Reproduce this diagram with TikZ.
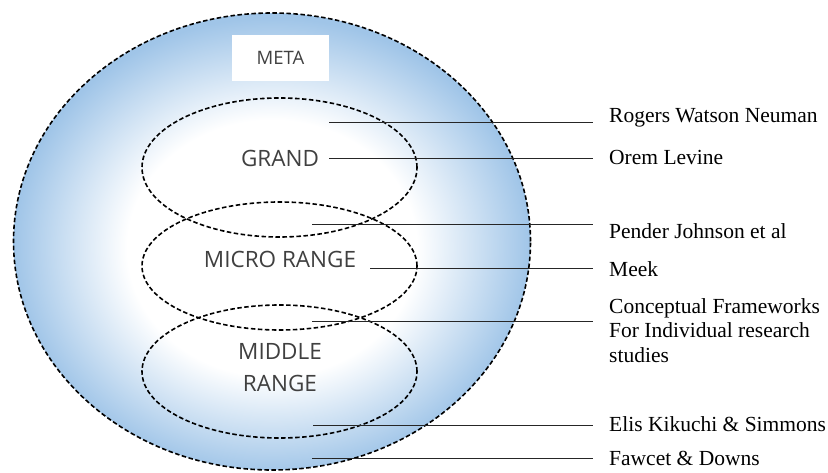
\documentclass[tikz,border=0pt]{standalone}
\usepackage{fontspec}
\setmainfont{Liberation Serif}
\newfontfamily\labelsans{Open Sans}
\definecolor{metablue}{RGB}{160,197,232}
\pgfdeclareradialshading{metashade}{\pgfpoint{0bp}{-1bp}}{color(0bp)=(white); color(14bp)=(white); color(25bp)=(metablue); color(50bp)=(metablue)}
\begin{document}
\begin{tikzpicture}[x=1pt,y=1pt,
  ring/.style={draw=black,line width=1.6pt,dash pattern=on 4.5pt off 2.5pt},
  sanslabel/.style={font=\labelsans\fontsize{22.5}{32}\selectfont,text=black!75,inner sep=0pt,align=center},
  namelabel/.style={font=\fontsize{21.5}{24.5}\selectfont,anchor=west,inner xsep=16pt,inner ysep=0pt,align=left},
  leader/.style={draw=black!85,line width=0.9pt}]
\useasboundingbox (0,0) rectangle (828,472);
% outer META ellipse
\path[shading=metashade] (272,230.5) ellipse [x radius=258.5, y radius=228.5];
\draw[ring] (272,230.5) ellipse [x radius=258.5, y radius=228.5];
% META box
\node[fill=white,minimum width=97pt,minimum height=46pt,inner sep=0pt,
  font=\labelsans\fontsize{18.5}{22}\selectfont,text=black!75] (meta) at (280.5,414) {META};
% inner ellipses
\draw[ring] (279.5,304.5) ellipse [x radius=137.5, y radius=69.5];
\draw[ring] (279.5,206) ellipse [x radius=137.5, y radius=64];
\draw[ring] (279.5,100.5) ellipse [x radius=137.5, y radius=66.5];
% level labels
\node[sanslabel] (grand) at (280,314) {GRAND};
\node[sanslabel] (micro) at (280,213) {MICRO RANGE};
\node[sanslabel] (middle) at (280,104) {MIDDLE\\RANGE};
% right-hand labels
\node[namelabel] (rogers) at (593,354) {Rogers Watson Neuman};
\node[namelabel] (orem) at (593,315) {Orem Levine};
\node[namelabel] (pender) at (593,241) {Pender Johnson et al};
\node[namelabel] (meek) at (593,203) {Meek};
\node[namelabel] (concept) at (593,141.5) {Conceptual Frameworks\\For Individual research\\studies};
\node[namelabel] (elis) at (593,48) {Elis Kikuchi \& Simmons};
\node[namelabel] (fawcet) at (593,14) {Fawcet \& Downs};
% leader start points
\coordinate (s1) at (329,350);
\coordinate (s2) at (329,314);
\coordinate (s3) at (312,248);
\coordinate (s4) at (370,204);
\coordinate (s5) at (312,151);
\coordinate (s6) at (313,47);
\coordinate (s7) at (312,14);
\draw[leader] (s1) -- (s1 -| rogers.west);
\draw[leader] (s2) -- (s2 -| orem.west);
\draw[leader] (s3) -- (s3 -| pender.west);
\draw[leader] (s4) -- (s4 -| meek.west);
\draw[leader] (s5) -- (s5 -| concept.west);
\draw[leader] (s6) -- (s6 -| elis.west);
\draw[leader] (s7) -- (s7 -| fawcet.west);
\end{tikzpicture}
\end{document}
